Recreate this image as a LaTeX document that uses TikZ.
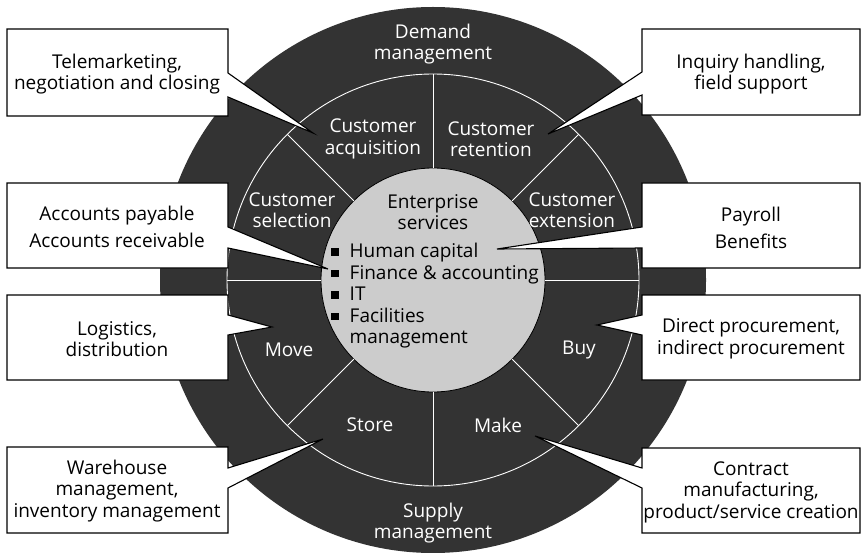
\documentclass[tikz,border=0pt]{standalone}
\usepackage{fontspec}
\setmainfont{Open Sans}
\definecolor{ringdark}{HTML}{333333}
\definecolor{coregray}{HTML}{CCCCCC}
\newcommand{\sqbullet}{\raisebox{2pt}{\rule{7.5pt}{7.5pt}}\hspace{11pt}}
\begin{document}
\begin{tikzpicture}[x=1pt,y=-1pt,line join=miter,font=\fontsize{19}{21.5}\selectfont,
    callout/.style={fill=white,draw=black,line width=1.1pt},
    seg/.style={text=white,align=center},
    boxtext/.style={align=center}]
    \useasboundingbox (0,0) rectangle (861,553);
    \fill[ringdark] (433,280) circle (273);
    \fill[coregray,draw=black,line width=0.8pt] (433,280) circle (112);
    \draw[white,line width=0.9pt] (433,280) circle (206);
    \foreach \a in {0,45,...,315}
        \draw[white,line width=0.9pt] (433,280) ++(\a:112) -- ++(\a:94);
    % ring labels
    \node[seg] (demand) at (433,44) {Demand\\management};
    \node[seg] (acq) at (373,139) {Customer\\acquisition};
    \node[seg] (ret) at (491,139) {Customer\\retention};
    \node[seg] (sel) at (292,210) {Customer\\selection};
    \node[seg] (ext) at (572,210) {Customer\\extension};
    \node[seg] (move) at (289,350) {Move};
    \node[seg] (buy) at (579,350) {Buy};
    \node[seg] (store) at (370,425) {Store};
    \node[seg] (make) at (498,425) {Make};
    \node[seg] (supply) at (433,523) {Supply\\management};
    \node[align=center] (ent) at (433,212) {Enterprise\\services};
    \node[align=left,anchor=north west,inner sep=0pt] (svc) at (331,243)
        {\sqbullet Human capital\\
         \sqbullet Finance \& accounting\\
         \sqbullet IT\\
         \sqbullet Facilities\\
         \hphantom{\sqbullet}management};
    % callouts, left side
    \draw[callout] (7,29) -- (228,29) -- (228,73) -- (313,133) -- (228,97) -- (228,116) -- (7,116) -- cycle;
    \node[boxtext] (tele) at (117,74) {Telemarketing,\\negotiation and closing};
    \draw[callout] (7,183) -- (228,183) -- (228,227) -- (328,269) -- (228,248) -- (228,268) -- (7,268) -- cycle;
    \node[boxtext] (accts) at (117,227) {Accounts payable\\[6pt]Accounts receivable};
    \draw[callout] (7,295) -- (228,295) -- (228,315) -- (272,327) -- (228,335) -- (228,380) -- (7,380) -- cycle;
    \node[boxtext] (logi) at (117,339) {Logistics,\\distribution};
    \draw[callout] (7,447) -- (228,447) -- (228,468) -- (323,439) -- (228,488) -- (228,533) -- (7,533) -- cycle;
    \node[boxtext] (ware) at (117,491) {Warehouse\\management,\\inventory management};
    % callouts, right side
    \draw[callout] (642,29) -- (860,29) -- (860,115) -- (642,115) -- (642,95) -- (548,134) -- (642,72) -- cycle;
    \node[boxtext] (inq) at (751,74) {Inquiry handling,\\field support};
    \draw[callout] (642,183) -- (860,183) -- (860,268) -- (642,268) -- (642,248) -- (497,249) -- (642,227) -- cycle;
    \node[boxtext] (pay) at (751,228) {Payroll\\[6pt]Benefits};
    \draw[callout] (642,295) -- (860,295) -- (860,380) -- (642,380) -- (642,335) -- (597,325) -- (642,315) -- cycle;
    \node[boxtext] (proc) at (751,339) {Direct procurement,\\indirect procurement};
    \draw[callout] (642,448) -- (860,448) -- (860,533) -- (642,533) -- (642,488) -- (535,436) -- (642,468) -- cycle;
    \node[boxtext] (contr) at (751,492) {Contract\\manufacturing,\\product/service creation};
\end{tikzpicture}
\end{document}
